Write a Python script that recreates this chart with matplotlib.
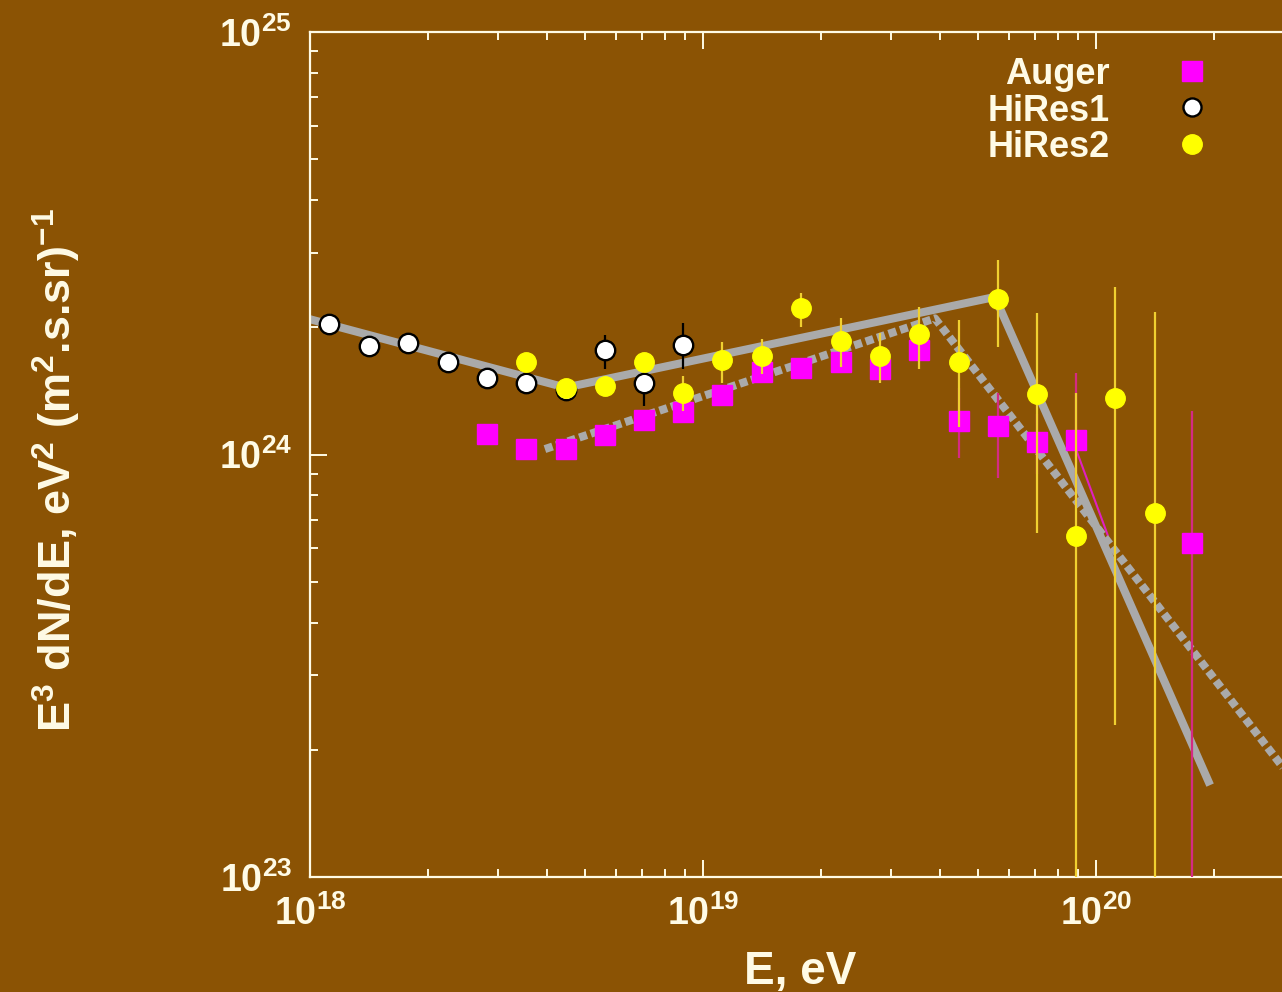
"""
UHECR spectrum: E^3-weighted flux from Auger, HiRes1 and HiRes2 with broken power-law fits.
"""

import matplotlib
matplotlib.use('Agg')
import matplotlib.pyplot as plt
import numpy as np

BG = '#8b5304'
FG = '#fffbe6'
FIT_GRAY = '#aaaaaa'
SCALE = 1e24  # flux values below are in units of 1e24

# HiRes1 (white circles)
hires1_e = [1.12e18, 1.41e18, 1.78e18, 2.24e18, 2.82e18, 3.55e18, 4.47e18,
            5.62e18, 7.08e18, 8.91e18]
hires1_j = [2.04, 1.81, 1.84, 1.66, 1.52, 1.48, 1.42, 1.77, 1.48, 1.82]
hires1_lo = [1.99, 1.77, 1.80, 1.62, 1.48, 1.44, 1.38, 1.59, 1.30, 1.59]
hires1_hi = [2.09, 1.85, 1.88, 1.70, 1.56, 1.52, 1.46, 1.92, 1.62, 2.05]

# HiRes2 (yellow circles)
hires2_e = [3.55e18, 4.47e18, 5.62e18, 7.08e18, 8.91e18, 1.12e19, 1.41e19,
            1.78e19, 2.24e19, 2.82e19, 3.55e19, 4.47e19, 5.62e19, 7.08e19,
            8.91e19, 1.12e20, 1.41e20]
hires2_j = [1.66, 1.44, 1.45, 1.66, 1.40, 1.67, 1.71, 2.22, 1.86, 1.71, 1.93,
            1.66, 2.33, 1.39, 0.641, 1.36, 0.727]
hires2_lo = [1.60, 1.39, 1.40, 1.60, 1.27, 1.48, 1.55, 2.00, 1.61, 1.48, 1.59,
             1.16, 1.80, 0.652, 0.09, 0.229, 0.09]
hires2_hi = [1.72, 1.49, 1.50, 1.72, 1.53, 1.85, 1.88, 2.41, 2.10, 1.94, 2.24,
             2.08, 2.89, 2.16, 1.40, 2.49, 2.18]

# Auger (magenta squares)
auger_e = [2.82e18, 3.55e18, 4.47e18, 5.62e18, 7.08e18, 8.91e18, 1.12e19,
           1.41e19, 1.78e19, 2.24e19, 2.82e19, 3.55e19, 4.47e19, 5.62e19,
           7.08e19, 8.91e19, 1.75e20]
auger_j = [1.12, 1.03, 1.03, 1.11, 1.21, 1.26, 1.38, 1.57, 1.60, 1.66, 1.59,
           1.77, 1.20, 1.17, 1.07, 1.08, 0.617]
auger_lo = [1.09, 1.00, 1.00, 1.08, 1.17, 1.22, 1.33, 1.52, 1.55, 1.60, 1.52,
            1.70, 0.98, 0.88, 0.90, 0.75, 0.09]
auger_hi = [1.15, 1.06, 1.06, 1.14, 1.25, 1.30, 1.43, 1.62, 1.65, 1.72, 1.66,
            1.84, 1.44, 1.40, 1.25, 1.56, 1.27]

# broken power-law fits
hires_fit_e = [1e18, 4.47e18, 5.53e19, 1.95e20]
hires_fit_j = [2.09, 1.44, 2.36, 0.165]
auger_fit_e = [3.96e18, 3.89e19, 3.16e20]
auger_fit_j = [1.03, 2.10, 0.17]
auger_tail_e = [8.85e19, 1.07e20]
auger_tail_j = [1.04, 0.645]

plt.rcParams['font.family'] = ['Liberation Sans', 'DejaVu Sans']
plt.rcParams['font.weight'] = 'bold'
plt.rcParams['mathtext.fontset'] = 'custom'
plt.rcParams['mathtext.rm'] = 'Liberation Sans:bold'
plt.rcParams['mathtext.it'] = 'Liberation Sans:bold'
plt.rcParams['mathtext.bf'] = 'Liberation Sans:bold'
plt.rcParams['mathtext.default'] = 'rm'

fig = plt.figure(figsize=(12.82, 9.92), dpi=100, facecolor=BG)
# axes run a little past the right edge of the canvas
ax = fig.add_axes([310 / 1282, 115 / 992, 995 / 1282, 845 / 992])
ax.set_facecolor(BG)
ax.set_xscale('log')
ax.set_yscale('log')
ax.set_xlim(1e18, 3.4e20)
ax.set_ylim(1e23, 1e25)


def scaled(vals):
    return np.array(vals) * SCALE


def yerr(j, lo, hi):
    j = np.array(j)
    return [(j - np.array(lo)) * SCALE, (np.array(hi) - j) * SCALE]


ax.plot(auger_tail_e, scaled(auger_tail_j), color='#e020c0', lw=1.5, zorder=1)
ax.plot(hires_fit_e, scaled(hires_fit_j), color=FIT_GRAY, lw=5.8,
        solid_capstyle='butt', zorder=2)
ax.plot(auger_fit_e, scaled(auger_fit_j), color=FIT_GRAY, lw=5.8,
        linestyle=(0, (1.0, 0.5)), dash_capstyle='butt', zorder=2)

ax.errorbar(auger_e, scaled(auger_j), yerr=yerr(auger_j, auger_lo, auger_hi),
            fmt='s', ms=14, color='#ff00ff', mec='#ff00ff', ecolor='#d42a84',
            elinewidth=1.6, capsize=0, zorder=3)
ax.errorbar(hires1_e, scaled(hires1_j), yerr=yerr(hires1_j, hires1_lo, hires1_hi),
            fmt='o', ms=14, mfc='white', mec='black', mew=1.7, ecolor='black',
            elinewidth=1.6, capsize=0, zorder=4)
ax.errorbar(hires2_e, scaled(hires2_j), yerr=yerr(hires2_j, hires2_lo, hires2_hi),
            fmt='o', ms=14, mfc='#ffff00', mec='#ffff00', ecolor='#f0d030',
            elinewidth=1.6, capsize=0, zorder=5)

for side in ('left', 'bottom', 'top', 'right'):
    ax.spines[side].set_color(FG)
    ax.spines[side].set_linewidth(1.6)
ax.tick_params(which='both', direction='in', colors=FG, top=True, right=True,
               width=1.4)
ax.tick_params(which='major', length=12, labelsize=27, pad=13)
ax.tick_params(which='minor', length=6)

fig.text(800 / 1282, 1 - 984 / 992, 'E, eV', color=FG, fontsize=33,
         ha='center', va='baseline')
fig.text(57 / 1282, 1 - 470 / 992,
         r'E$^3$ dN/dE, eV$^2$ (m$^2$.s.sr)$^{-1}$', color=FG, fontsize=32.5,
         rotation=90, ha='center', va='center')

# key: right-aligned names with the marker to the right
key_names = ['Auger', 'HiRes1', 'HiRes2']
key_rows = [0.954, 0.911, 0.868]
key_styles = [dict(marker='s', ms=14, mfc='#ff00ff', mec='#ff00ff'),
              dict(marker='o', ms=13, mfc='white', mec='black', mew=1.7),
              dict(marker='o', ms=14, mfc='#ffff00', mec='#ffff00')]
for name, row, style in zip(key_names, key_rows, key_styles):
    ax.text(0.8042, row, name, transform=ax.transAxes, color=FG, fontsize=26,
            ha='right', va='center_baseline')
    ax.plot([0.8864], [row], transform=ax.transAxes, clip_on=False, ls='none',
            **style)

fig.savefig('out.png', dpi=100, facecolor=BG)
